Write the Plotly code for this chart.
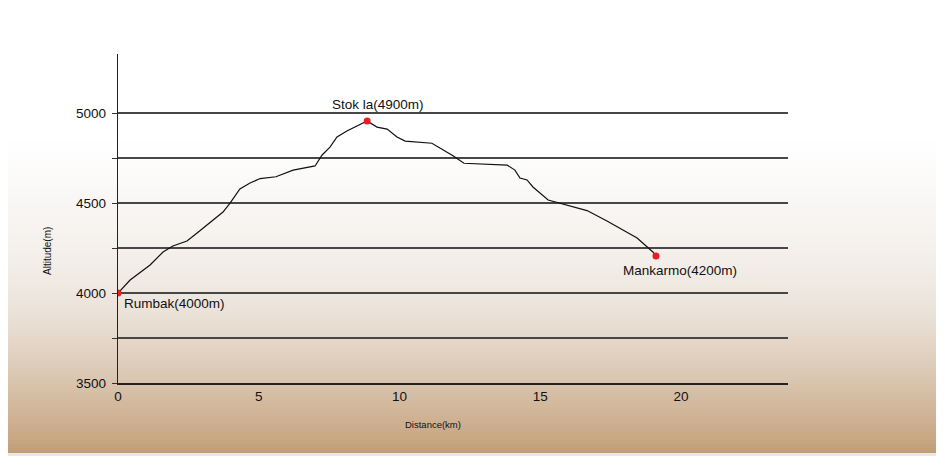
import plotly.graph_objects as go

# ---------------- data ----------------
dist_km = [0.00, 0.43, 1.14, 1.60, 1.95, 2.45, 2.81, 3.27, 3.73, 3.98, 4.33, 4.69,
           5.05, 5.61, 6.22, 7.00, 7.25, 7.53, 7.78, 8.13, 8.85, 9.20, 9.56, 9.91,
           10.20, 11.15, 11.55, 11.90, 12.29, 13.21, 13.82, 14.10, 14.28, 14.53,
           14.74, 15.28, 16.66, 17.37, 18.08, 18.44, 19.00, 19.11]
alt_m = [4000, 4072, 4156, 4228, 4261, 4289, 4333, 4394, 4450, 4500, 4578, 4611,
         4636, 4646, 4683, 4706, 4767, 4811, 4867, 4900, 4956, 4922, 4911, 4867,
         4844, 4832, 4794, 4763, 4721, 4717, 4711, 4683, 4639, 4628,
         4589, 4517, 4458, 4400, 4339, 4306, 4228, 4206]

wp_names = ["Rumbak(4000m)", "Stok la(4900m)", "Mankarmo(4200m)"]
wp_km = [0.00, 8.85, 19.11]
wp_alt = [4000, 4956, 4206]

x_ticks = [0, 5, 10, 15, 20]
y_ticks = [3500, 4000, 4500, 5000]
y_minor = [3750, 4250, 4750]

x_title = "Distance(km)"
y_title = "Altitude(m)"

# ---------------- figure ----------------
FONT = "Liberation Sans, Arial, Helvetica, sans-serif"
OFF = 8                      # page body margin of the browser
W, H = 944 - OFF, 456 - OFF
ML, MR, MT, MB = 118 - OFF, 156, 54 - OFF, 73
PW, PH = W - ML - MR, H - MT - MB

fig = go.Figure()

fig.add_trace(go.Scatter(x=dist_km, y=alt_m, mode="lines",
                         line=dict(color="#111111", width=1.2),
                         hoverinfo="skip", showlegend=False))
fig.add_trace(go.Scatter(x=wp_km, y=wp_alt, mode="markers",
                         marker=dict(color="#ec1c24", size=7),
                         showlegend=False))

# waypoint labels
shifts = [(4, -10, "left"), (11, 16, "center"), (24, -15, "center")]
for name, xk, ya, (dx, dy, xa) in zip(wp_names, wp_km, wp_alt, shifts):
    fig.add_annotation(x=xk, y=ya, text=name, showarrow=False,
                       xanchor=xa, yanchor="middle", xshift=dx, yshift=dy,
                       font=dict(family=FONT, size=13.5, color="#111111"))

# axis titles (positions given in screen pixels)
def sx(px):
    return (px - OFF - ML) / PW

def sy(py):
    return (H - MB - (py - OFF)) / PH

fig.add_annotation(xref="paper", yref="paper", x=sx(47), y=sy(251),
                   xanchor="center", yanchor="middle",
                   text=y_title, textangle=-90, showarrow=False,
                   font=dict(family=FONT, size=10, color="#111111"))
fig.add_annotation(xref="paper", yref="paper", x=sx(433), y=sy(424),
                   xanchor="center", yanchor="middle",
                   text=x_title, showarrow=False,
                   font=dict(family=FONT, size=9.5, color="#111111"))

# paper-like background gradient (white top -> tan bottom)
def hex2rgb(h):
    h = h.lstrip("#")
    return [int(h[i:i + 2], 16) for i in (0, 2, 4)]

stops = [(0, "#ffffff"), (150, "#fefefe"), (200, "#f9f7f5"), (250, "#f4f0ec"),
         (290, "#efe8e1"), (330, "#e7dcd0"), (370, "#dccab7"), (410, "#d1b699"),
         (440, "#c8a684"), (453, "#c19d76")]

def color_at(py):
    for (a, ca), (b, cb) in zip(stops[:-1], stops[1:]):
        if a <= py <= b:
            t = (py - a) / (b - a)
            A, B = hex2rgb(ca), hex2rgb(cb)
            return "rgb(%d,%d,%d)" % tuple(round(A[i] + (B[i] - A[i]) * t) for i in range(3))
    return stops[-1][1]

shapes = []
step = 4
X0, X1 = sx(0) - 0.02, sx(944) + 0.02
for py in range(140, 453, step):
    shapes.append(dict(type="rect", xref="paper", yref="paper",
                       x0=X0, x1=X1, y0=sy(min(py + step, 453) + 0.5), y1=sy(py),
                       fillcolor=color_at(py + step / 2), line=dict(width=0),
                       layer="below"))
shapes.append(dict(type="rect", xref="paper", yref="paper",
                   x0=X0, x1=X1, y0=sy(460), y1=sy(453),
                   fillcolor="#ece7e2", line=dict(width=0), layer="below"))

GRID = "#474747"
fig.update_layout(
    width=W, height=H,
    margin=dict(l=ML, r=MR, t=MT, b=MB, pad=0),
    paper_bgcolor="#ffffff", plot_bgcolor="rgba(0,0,0,0)",
    font=dict(family=FONT, size=13.5, color="#111111"),
    shapes=shapes,
    xaxis=dict(range=[0, 23.8], tickvals=x_ticks, showgrid=False, zeroline=False,
               showline=True, linecolor="#222222", linewidth=1.5, ticks="",
               tickfont=dict(family=FONT, size=13.5, color="#111111")),
    yaxis=dict(range=[3500, 5328], tickvals=y_ticks, showgrid=True,
               gridcolor=GRID, gridwidth=1.6, zeroline=False,
               showline=True, linecolor="#222222", linewidth=1.3,
               ticks="outside", ticklen=5, tickcolor="#333333",
               ticklabelstandoff=3,
               tickfont=dict(family=FONT, size=13.5, color="#111111"),
               minor=dict(tickvals=y_minor, showgrid=True, gridcolor=GRID,
                          gridwidth=1.6, ticks="outside", ticklen=5,
                          tickcolor="#333333")),
)

fig.write_html("out.html")
